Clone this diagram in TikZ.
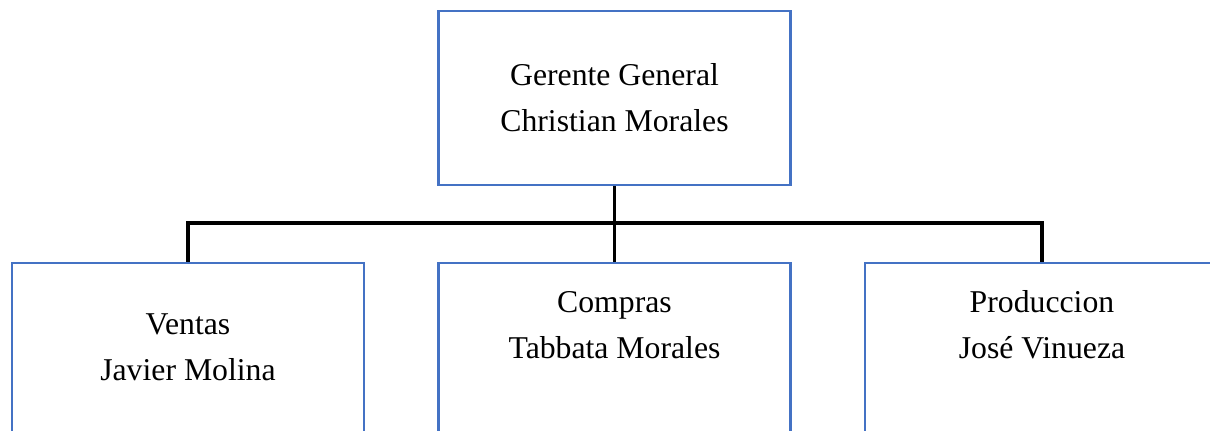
\documentclass[tikz,border=0pt]{standalone}
\usepackage{fontspec}
\setmainfont{Liberation Serif}
\definecolor{boxblue}{HTML}{4472C4}
\begin{document}
\begin{tikzpicture}[x=0.75pt,y=-0.75pt,
  orgbox/.style={draw=boxblue,line width=1.9pt,rectangle,inner sep=0pt,minimum width=352*0.75pt},
  orgtext/.style={align=center,inner sep=0pt,font=\fontsize{23.8pt}{34.5pt}\selectfont},
  conn/.style={draw=black,line width=2.5pt}]
\useasboundingbox (0,0) rectangle (1210,431);
\clip (0,0) rectangle (1210,431);
% boxes
\node[orgbox,minimum height=174*0.75pt] (gg) at (614.5,98) {};
\node[orgbox,minimum height=300*0.75pt,anchor=north] (ventas) at (188,261.5) {};
\node[orgbox,minimum height=300*0.75pt,anchor=north] (compras) at (614.5,261.5) {};
\node[orgbox,minimum height=300*0.75pt,minimum width=354*0.75pt,anchor=north] (prod) at (1042,261.5) {};
% texts
\node[orgtext] (ggt) at (614.5,98) {Gerente General\\Christian Morales};
\node[orgtext] (vt) at (188,347.5) {Ventas\\Javier Molina};
\node[orgtext] (ct) at (614.5,325) {Compras\\Tabbata Morales};
\node[orgtext] (pt) at (1042,324.5) {Produccion\\José Vinueza};
% connectors
\coordinate (j) at (614.5,223);
\draw[conn] (gg.south) -- (j);
\draw[conn] (ventas.north) |- (j) -| (prod.north);
\draw[conn] (j) -- (compras.north);
\end{tikzpicture}
\end{document}
